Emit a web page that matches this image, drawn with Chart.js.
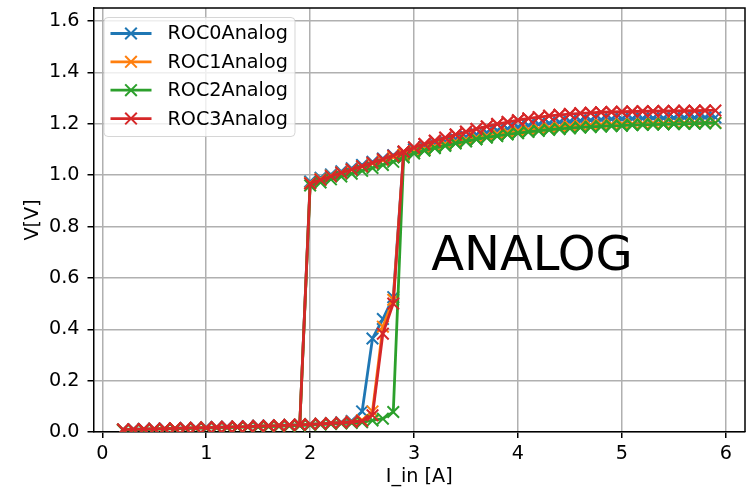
<!DOCTYPE html>
<html>
<head>
<meta charset="utf-8">
<script src="https://cdn.jsdelivr.net/npm/chart.js@4.4.1/dist/chart.umd.min.js"></script>
<style>
  html, body { margin: 0; padding: 0; background: #ffffff; }
  #c { display: block; }
</style>
</head>
<body>
<canvas id="c" width="749" height="493"></canvas>
<script>
// Series names and colours
const seriesNames = ['ROC0Analog', 'ROC1Analog', 'ROC2Analog', 'ROC3Analog'];
const seriesColors = ['#1f77b4', '#ff7f0e', '#2ca02c', '#d62728'];

// Axis ticks
const xTicks = [0, 1, 2, 3, 4, 5, 6];
const yTicks = [0.0, 0.2, 0.4, 0.6, 0.8, 1.0, 1.2, 1.4, 1.6];

// Input currents of the low branch (including the switching points)
const lowCurrents = [0.2, 0.3, 0.4, 0.5, 0.6, 0.7, 0.8, 0.9, 1.0, 1.1, 1.2, 1.3, 1.4,
  1.5, 1.6, 1.7, 1.8, 1.9, 2.0, 2.1, 2.2, 2.3, 2.4, 2.5, 2.6, 2.7, 2.8];

// Input currents of the high branch
const highCurrents = [2.0, 2.1, 2.2, 2.3, 2.4, 2.5, 2.6, 2.7, 2.8, 2.9, 3.0, 3.1, 3.2,
  3.3, 3.4, 3.5, 3.6, 3.7, 3.8, 3.9, 4.0, 4.1, 4.2, 4.3, 4.4, 4.5, 4.6, 4.7, 4.8, 4.9,
  5.0, 5.1, 5.2, 5.3, 5.4, 5.5, 5.6, 5.7, 5.8, 5.9];

// Analog voltage, low branch [V]
const roc0Low = [0.010, 0.011, 0.012, 0.013, 0.014, 0.015, 0.016, 0.017, 0.018, 0.019,
  0.020, 0.021, 0.022, 0.024, 0.025, 0.026, 0.028, 0.029, 0.031, 0.033, 0.035, 0.038,
  0.043, 0.080, 0.364, 0.440, 0.525];
const roc1Low = [0.009, 0.010, 0.011, 0.012, 0.013, 0.014, 0.015, 0.016, 0.017, 0.018,
  0.019, 0.020, 0.021, 0.023, 0.024, 0.025, 0.027, 0.028, 0.030, 0.032, 0.034, 0.036,
  0.040, 0.046, 0.080, 0.410, 0.515];
const roc2Low = [0.007, 0.008, 0.009, 0.010, 0.011, 0.012, 0.013, 0.014, 0.015, 0.016,
  0.017, 0.018, 0.019, 0.020, 0.021, 0.022, 0.024, 0.025, 0.027, 0.029, 0.031, 0.033,
  0.035, 0.038, 0.045, 0.052, 0.078];
const roc3Low = [0.009, 0.010, 0.011, 0.012, 0.013, 0.014, 0.015, 0.016, 0.017, 0.018,
  0.019, 0.020, 0.021, 0.023, 0.024, 0.025, 0.027, 0.028, 0.030, 0.032, 0.034, 0.036,
  0.039, 0.043, 0.065, 0.383, 0.500];

// Analog voltage, high branch [V]
const roc0High = [0.975, 0.990, 1.003, 1.015, 1.027, 1.040, 1.052, 1.065, 1.078, 1.090,
  1.100, 1.110, 1.120, 1.130, 1.140, 1.150, 1.158, 1.166, 1.174, 1.181, 1.187, 1.193,
  1.198, 1.202, 1.206, 1.209, 1.212, 1.214, 1.216, 1.218, 1.219, 1.220, 1.221, 1.222,
  1.222, 1.223, 1.224, 1.224, 1.225, 1.225];
const roc1High = [0.970, 0.985, 0.998, 1.010, 1.022, 1.034, 1.046, 1.058, 1.070, 1.080,
  1.092, 1.102, 1.112, 1.121, 1.130, 1.138, 1.146, 1.153, 1.160, 1.166, 1.172, 1.177,
  1.181, 1.185, 1.188, 1.191, 1.193, 1.195, 1.197, 1.198, 1.199, 1.200, 1.201, 1.202,
  1.202, 1.203, 1.203, 1.204, 1.204, 1.205];
const roc2High = [0.960, 0.972, 0.984, 0.995, 1.006, 1.017, 1.028, 1.040, 1.052, 1.070,
  1.085, 1.096, 1.106, 1.115, 1.124, 1.132, 1.140, 1.147, 1.153, 1.159, 1.164, 1.169,
  1.173, 1.177, 1.180, 1.183, 1.186, 1.188, 1.190, 1.192, 1.193, 1.195, 1.196, 1.197,
  1.198, 1.199, 1.200, 1.201, 1.202, 1.203];
const roc3High = [0.968, 0.982, 0.996, 1.009, 1.022, 1.035, 1.048, 1.062, 1.076, 1.092,
  1.108, 1.121, 1.134, 1.146, 1.158, 1.169, 1.180, 1.190, 1.199, 1.207, 1.214, 1.221,
  1.226, 1.231, 1.235, 1.238, 1.241, 1.243, 1.245, 1.246, 1.247, 1.248, 1.249, 1.249,
  1.250, 1.250, 1.251, 1.251, 1.252, 1.252];

const lowBranches = [roc0Low, roc1Low, roc2Low, roc3Low];
const highBranches = [roc0High, roc1High, roc2High, roc3High];

// Text label placed inside the plot (data coordinates)
const annotationText = 'ANALOG';
const annotationX = 3.165;
const annotationY = 0.63;

const FONT = '"DejaVu Sans", "Liberation Sans", sans-serif';
const TEXT_SIZE = 19.2;
const MARKER_RADIUS = 8.2;
const MARKER_WIDTH = 2;
const LINE_WIDTH = 2.8;

// Up sweep along the low branch, over to the high branch, then back down
function sweepPath(low, high) {
  const pts = [];
  const lastLow = lowCurrents[lowCurrents.length - 1];
  const firstHigh = highCurrents[0];
  lowCurrents.forEach((x, i) => pts.push({ x: x, y: low[i] }));
  highCurrents.forEach((x, j) => { if (x > lastLow + 1e-9) pts.push({ x: x, y: high[j] }); });
  for (let j = highCurrents.length - 2; j >= 0; j--) pts.push({ x: highCurrents[j], y: high[j] });
  for (let i = lowCurrents.length - 1; i >= 0; i--) {
    if (lowCurrents[i] < firstHigh - 1e-9) pts.push({ x: lowCurrents[i], y: low[i] });
  }
  return pts;
}

const datasets = seriesNames.map((name, k) => ({
  label: name,
  data: sweepPath(lowBranches[k], highBranches[k]),
  showLine: true,
  borderColor: seriesColors[k],
  backgroundColor: seriesColors[k],
  borderWidth: LINE_WIDTH,
  pointStyle: 'crossRot',
  pointRadius: MARKER_RADIUS,
  pointBorderWidth: MARKER_WIDTH,
  pointBorderColor: seriesColors[k],
  pointHoverRadius: MARKER_RADIUS,
  tension: 0,
  order: seriesNames.length - 1 - k
}));

function drawMarker(ctx, cx, cy, r, color) {
  const d = r * Math.SQRT1_2;
  ctx.beginPath();
  ctx.moveTo(cx - d, cy - d); ctx.lineTo(cx + d, cy + d);
  ctx.moveTo(cx + d, cy - d); ctx.lineTo(cx - d, cy + d);
  ctx.strokeStyle = color;
  ctx.lineWidth = MARKER_WIDTH;
  ctx.stroke();
}

const decor = {
  id: 'decor',
  afterDatasetsDraw(chart) {
    const { ctx, chartArea: a, scales } = chart;
    const xs = scales.x, ys = scales.y;
    ctx.save();

    // top and right frame lines
    ctx.strokeStyle = '#000';
    ctx.lineWidth = 1.5;
    ctx.beginPath();
    ctx.moveTo(a.left, a.top); ctx.lineTo(a.right, a.top); ctx.lineTo(a.right, a.bottom);
    ctx.stroke();

    // annotation text
    ctx.fillStyle = '#000';
    ctx.font = '48px ' + FONT;
    ctx.textAlign = 'left';
    ctx.textBaseline = 'alphabetic';
    ctx.fillText(annotationText, xs.getPixelForValue(annotationX), ys.getPixelForValue(annotationY));

    // legend box
    const bx = a.left + 10.5, by = a.top + 9.5, bw = 191, bh = 119, rad = 4;
    ctx.beginPath();
    ctx.moveTo(bx + rad, by);
    ctx.lineTo(bx + bw - rad, by);
    ctx.arcTo(bx + bw, by, bx + bw, by + rad, rad);
    ctx.lineTo(bx + bw, by + bh - rad);
    ctx.arcTo(bx + bw, by + bh, bx + bw - rad, by + bh, rad);
    ctx.lineTo(bx + rad, by + bh);
    ctx.arcTo(bx, by + bh, bx, by + bh - rad, rad);
    ctx.lineTo(bx, by + rad);
    ctx.arcTo(bx, by, bx + rad, by, rad);
    ctx.closePath();
    ctx.fillStyle = 'rgba(255,255,255,0.8)';
    ctx.fill();
    ctx.strokeStyle = 'rgba(204,204,204,0.8)';
    ctx.lineWidth = 1;
    ctx.stroke();

    ctx.font = TEXT_SIZE + 'px ' + FONT;
    ctx.textBaseline = 'middle';
    seriesNames.forEach((name, k) => {
      const rowY = by + 16 + k * 28.35;
      ctx.beginPath();
      ctx.moveTo(bx + 6.5, rowY); ctx.lineTo(bx + 47.5, rowY);
      ctx.strokeStyle = seriesColors[k];
      ctx.lineWidth = LINE_WIDTH;
      ctx.stroke();
      drawMarker(ctx, bx + 27, rowY, MARKER_RADIUS, seriesColors[k]);
      ctx.fillStyle = '#000';
      ctx.fillText(name, bx + 63.5, rowY + 1);
    });
    ctx.restore();
  }
};

new Chart(document.getElementById('c'), {
  type: 'scatter',
  data: { datasets: datasets },
  options: {
    responsive: false,
    animation: false,
    devicePixelRatio: 1,
    layout: { autoPadding: false, padding: { left: 0, right: 4, top: 8, bottom: 0 } },
    plugins: {
      legend: { display: false },
      tooltip: { enabled: false }
    },
    scales: {
      x: {
        type: 'linear',
        min: -0.085,
        max: 6.185,
        afterFit: s => { s.height = 61; s.paddingLeft = 0; s.paddingRight = 0; },
        afterBuildTicks: s => { s.ticks = xTicks.map(v => ({ value: v })); },
        grid: { color: '#b0b0b0', lineWidth: 1.5, tickColor: '#000', tickLength: 6, tickWidth: 1.5 },
        border: { display: true, color: '#000', width: 1.5 },
        ticks: {
          color: '#000', font: { family: FONT, size: TEXT_SIZE }, padding: 4,
          autoSkip: false, maxRotation: 0,
          callback: v => String(v)
        },
        title: {
          display: true, text: 'I_in [A]', color: '#000',
          font: { family: FONT, size: TEXT_SIZE }, padding: { top: 0, bottom: 4 }
        }
      },
      y: {
        type: 'linear',
        min: 0,
        max: 1.651,
        afterFit: s => { s.width = 93.5; s.paddingTop = 0; s.paddingBottom = 0; },
        afterBuildTicks: s => { s.ticks = yTicks.map(v => ({ value: v })); },
        grid: { color: '#b0b0b0', lineWidth: 1.5, tickColor: '#000', tickLength: 6, tickWidth: 1.5 },
        border: { display: true, color: '#000', width: 1.5 },
        ticks: {
          color: '#000', font: { family: FONT, size: TEXT_SIZE }, padding: 8,
          autoSkip: false,
          callback: v => Number(v).toFixed(1)
        },
        title: {
          display: true, text: 'V[V]', color: '#000',
          font: { family: FONT, size: TEXT_SIZE }, padding: { top: 21, bottom: 0 }
        }
      }
    }
  },
  plugins: [decor]
});
</script>
</body>
</html>
